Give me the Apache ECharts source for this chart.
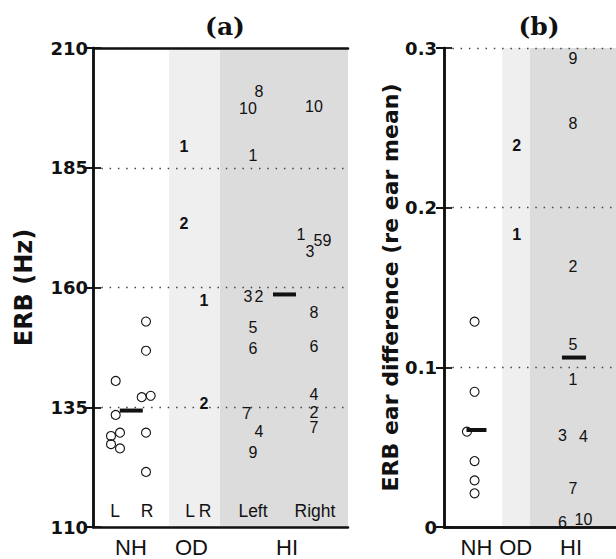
<!DOCTYPE html>
<html><head><meta charset="utf-8">
<script src="https://cdn.jsdelivr.net/npm/echarts@6/dist/echarts.min.js"></script>
<style>html,body{margin:0;padding:0;background:#fff}#c{width:616px;height:559px}</style>
</head><body><div id="c"></div>
<script>
// ---------- DATA ----------
const panelTitles = ['(a)', '(b)'];
const groupNames = ['NH', 'OD', 'HI'];
const earNames = ['L', 'R', 'L', 'R', 'Left', 'Right'];
const yAxisNames = ['ERB (Hz)', 'ERB ear difference (re ear mean)'];
const yRangeA = [110, 210];
const yStepA = 25;
const yRangeB = [0, 0.3];
const yStepB = 0.1;

// Panel (a): ERB in Hz
const nhLeftERB  = [140.5, 133.4, 129.7, 129.0, 127.3, 126.4];
const nhRightERB = [152.9, 146.8, 137.1, 137.4, 129.7, 121.5];
const odSubjects = [1, 2];
const odLeftERB  = [189.5, 173.3];
const odRightERB = [157.2, 135.7];
const hiSubjects = [1, 2, 3, 4, 5, 6, 7, 8, 9, 10];
const hiLeftERB  = [187.5, 158.1, 158.1, 130.0, 151.6, 147.3, 133.7, 200.9, 125.5, 197.4];
const hiRightERB = [171.1, 133.9, 167.5, 137.6, 169.9, 147.6, 130.8, 154.8, 169.9, 197.8];

// Panel (b): ear difference re ear mean
const nhEarDiff = [0.1286, 0.0847, 0.0597, 0.0413, 0.0292, 0.0211];
const odEarDiff = [0.1829, 0.2392];
const hiEarDiff = [0.0921, 0.1630, 0.0576, 0.0566, 0.1140, 0.0027, 0.0242, 0.2528, 0.2935, 0.0048];

// ---------- LAYOUT (grid pixel units) ----------
const W_A = 255, W_B = 180;
const bandsA = [[76, 127, '#efefef'], [127, 255, '#dcdcdc']];
const bandsB = [[61, 90, '#efefef'], [90, 180, '#dcdcdc']];
const colA = { nhL: 22.7, nhR: 53, nhMean: 38.3, odL: 91, odR: 111, hiL: 160, hiR: 221, hiMean: 191.5 };
const colB = { nh: 32, nhMean: 34, od: 76, hi: 135, hiMean: 136 };
const earLabelPosA = [22, 54, 97, 112, 160, 222];
const groupLabelPosA = [38, 98.5, 194];
const groupLabelPosB = [34, 75, 133];
// horizontal jitter so overlapping marks stay readable
const nhLeftShift  = [0, 0, 4.3, -4.7, -4.7, 4.3];
const nhRightShift = [0, 0, -4.3, 4.7, 0, 0];
const hiLeftShift  = [0, 6, -5, 6, 0, 0, -6, 6, 0, -5];
const hiRightShift = [-13, 0, -4, 0, 4, 0, 0, 0, 13, 0];
const nhDiffShift  = [0, 0, -8, 0, 0, 0];
const hiDiffShift  = [0, 0, -11, 11, 0, -11, 0, 0, 0, 11];

// ---------- HELPERS ----------
const mean = a => a.reduce((s, v) => s + v, 0) / a.length;
const INK = '#111111';
const SANS = 'Liberation Sans';
const BOLD = 'DejaVu Sans';

function axisSet(gi, W, yr, step, groupPos, name, nameGap, labelMargin, yFmt) {
  const lineStyle = { color: INK, width: 2.5 };
  const xs = [
    { gridIndex: gi, type: 'value', min: 0, max: W, position: 'bottom', z: 3,
      axisLine: { show: true, lineStyle }, axisTick: { show: false }, splitLine: { show: false },
      axisLabel: { show: true, customValues: groupPos, margin: 9,
        formatter: v => groupNames[groupPos.indexOf(v)],
        fontFamily: SANS, fontSize: 22, color: INK } },
    { gridIndex: gi, type: 'value', min: 0, max: W, position: 'top', z: 3,
      axisLine: { show: true, lineStyle }, axisTick: { show: false }, splitLine: { show: false },
      axisLabel: { show: false } }
  ];
  const ys = [
    { gridIndex: gi, type: 'value', min: yr[0], max: yr[1], interval: step, position: 'left', z: 3,
      name, nameLocation: 'middle', nameRotate: 90, nameGap,
      nameTextStyle: { fontFamily: BOLD, fontWeight: 'bold', fontSize: gi === 0 ? 24 : 22, color: INK },
      axisLine: { show: true, lineStyle },
      axisTick: { show: true, inside: true, length: 8, lineStyle: { color: INK, width: 1.8 } },
      axisLabel: { margin: labelMargin, fontFamily: BOLD, fontWeight: 'bold', fontSize: 18, color: INK, formatter: yFmt },
      splitLine: { show: true, lineStyle: { color: '#444', width: 1.4, type: [1.5, 6.8] } } },
    { gridIndex: gi, type: 'value', min: yr[0], max: yr[1], interval: step, position: 'right', z: 3,
      axisLine: { show: true, lineStyle },
      axisTick: { show: true, inside: true, length: 8, lineStyle: { color: INK, width: 2 } },
      axisLabel: { show: false }, splitLine: { show: false } }
  ];
  return { xs, ys };
}

const A = axisSet(0, W_A, yRangeA, yStepA, groupLabelPosA, yAxisNames[0], 57, 5, v => String(v));
const B = axisSet(1, W_B, yRangeB, yStepB, groupLabelPosB, yAxisNames[1], 42, 7, v => (v === 0 ? '0' : v.toFixed(1)));

function bandSeries(xi, yi, bands, yMin) {
  return { type: 'scatter', xAxisIndex: xi, yAxisIndex: yi, z: 1, silent: true,
    symbolSize: 0, data: [[0, yMin]],
    markArea: { silent: true, data: bands.map(b => [{ xAxis: b[0], itemStyle: { color: b[2], opacity: 1 } }, { xAxis: b[1] }]) } };
}
function circleSeries(xi, yi, data) {
  return { type: 'scatter', xAxisIndex: xi, yAxisIndex: yi, z: 4, silent: true,
    symbol: 'circle', symbolSize: 9, data,
    itemStyle: { color: 'rgba(0,0,0,0)', borderColor: INK, borderWidth: 1.1, opacity: 1 } };
}
function textSeries(xi, yi, data, bold, size) {
  return { type: 'scatter', xAxisIndex: xi, yAxisIndex: yi, z: 4, silent: true,
    symbolSize: 1, itemStyle: { color: 'rgba(0,0,0,0)', opacity: 1 }, data,
    label: { show: true, position: 'inside', formatter: p => String(p.data[2]),
      fontFamily: SANS, fontWeight: bold ? 'bold' : 'normal', fontSize: size, lineHeight: 13,
      color: INK, opacity: 1 } };
}
function meanSeries(xi, yi, data, widths) {
  return { type: 'scatter', xAxisIndex: xi, yAxisIndex: yi, z: 5, silent: true,
    symbol: 'rect', data: data.map((d, i) => ({ value: d, symbolSize: [widths[i], 4] })),
    itemStyle: { color: INK, opacity: 1 } };
}

const nhAllERB = nhLeftERB.concat(nhRightERB);
const hiAllERB = hiLeftERB.concat(hiRightERB);

const series = [
  // ----- panel (a) -----
  bandSeries(0, 0, bandsA, yRangeA[0]),
  circleSeries(0, 0,
    nhLeftERB.map((v, i) => [colA.nhL + nhLeftShift[i], v])
      .concat(nhRightERB.map((v, i) => [colA.nhR + nhRightShift[i], v]))),
  textSeries(0, 0,
    odLeftERB.map((v, i) => [colA.odL, v, odSubjects[i]])
      .concat(odRightERB.map((v, i) => [colA.odR, v, odSubjects[i]])), true, 16),
  textSeries(0, 0,
    hiLeftERB.map((v, i) => [colA.hiL + hiLeftShift[i], v, hiSubjects[i]])
      .concat(hiRightERB.map((v, i) => [colA.hiR + hiRightShift[i], v, hiSubjects[i]])), false, 16),
  { type: 'scatter', xAxisIndex: 0, yAxisIndex: 0, z: 4, silent: true,
    symbolSize: 1, itemStyle: { color: 'rgba(0,0,0,0)', opacity: 1 },
    data: earNames.map((t, i) => [earLabelPosA[i], yRangeA[0], t]),
    label: { show: true, position: 'inside', offset: [0, -16], formatter: p => p.data[2],
      fontFamily: SANS, fontSize: 17.5, color: INK } },
  meanSeries(0, 0, [[colA.nhMean, mean(nhAllERB)], [colA.hiMean, mean(hiAllERB)]], [23, 23]),
  // ----- panel (b) -----
  bandSeries(2, 2, bandsB, yRangeB[0]),
  circleSeries(2, 2, nhEarDiff.map((v, i) => [colB.nh + nhDiffShift[i], v])),
  textSeries(2, 2, odEarDiff.map((v, i) => [colB.od, v, odSubjects[i]]), true, 16),
  textSeries(2, 2, hiEarDiff.map((v, i) => [colB.hi + hiDiffShift[i], v, hiSubjects[i]]), false, 16),
  meanSeries(2, 2, [[colB.nhMean, mean(nhEarDiff)], [colB.hiMean, mean(hiEarDiff)]], [20, 24])
];

const titleStyle = { fontFamily: 'DejaVu Serif', fontWeight: 'bold', fontSize: 25, color: INK };
const option = {
  animation: false,
  backgroundColor: '#ffffff',
  title: [
    { text: panelTitles[0], left: 220, top: 9, textAlign: 'center', textStyle: titleStyle },
    { text: panelTitles[1], left: 534, top: 9, textAlign: 'center', textStyle: titleStyle }
  ],
  grid: [
    { left: 93, top: 48, width: W_A, height: 479, containLabel: false },
    { left: 444, top: 48, width: W_B, height: 479, containLabel: false }
  ],
  xAxis: A.xs.concat(B.xs),
  yAxis: A.ys.concat(B.ys),
  series
};

const chart = echarts.init(document.getElementById('c'), null, { renderer: 'svg' });
chart.setOption(option);
</script></body></html>
